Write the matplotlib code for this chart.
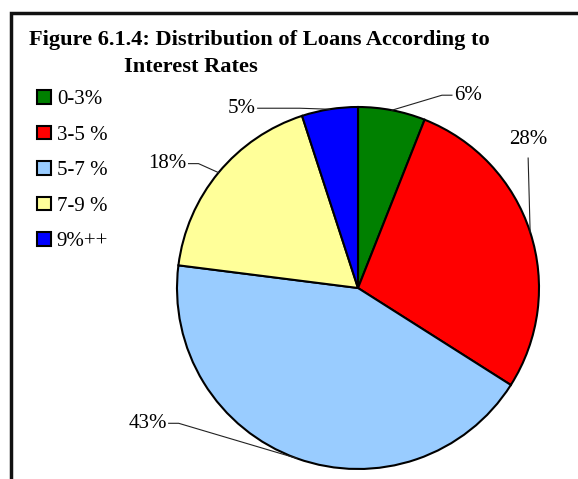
import numpy as np
import matplotlib
matplotlib.use('Agg')
import matplotlib.pyplot as plt

# Loan shares by interest-rate band (%)
categories = ['0-3%', '3-5 %', '5-7 %', '7-9 %', '9%++']
shares = [6, 28, 43, 18, 5]
colors = ['#008000', '#FF0000', '#99CCFF', '#FFFF99', '#0000FF']

title_1 = 'Figure 6.1.4: Distribution of Loans According to'
title_2 = 'Interest Rates'

W, H = 578, 479
plt.rcParams['font.family'] = ['Liberation Serif', 'DejaVu Serif']

fig = plt.figure(figsize=(W / 100, H / 100), dpi=100)
ax = fig.add_axes([0, 0, 1, 1])

# pie drawn in pixel units, y measured from the top
cx, cy, r = 358, 288, 181
wedges, _ = ax.pie(shares, colors=colors, startangle=90, counterclock=False,
                   center=(cx, H - cy), radius=r,
                   wedgeprops=dict(edgecolor='black', linewidth=1.5))
ax.set_xlim(0, W)
ax.set_ylim(0, H)
ax.set_aspect('equal')
ax.axis('off')

def py(y):
    return H - y

# outer frame (only top and left edges fall inside the canvas)
ax.plot([W, 11, 11], [py(13), py(13), 0], color='#111111', linewidth=2.5,
        solid_joinstyle='miter', clip_on=True)

ax.text(29, py(45), title_1, fontsize=16.1, fontweight='bold', ha='left', va='baseline')
ax.text(124, py(72), title_2, fontsize=16.1, fontweight='bold', ha='left', va='baseline')

# leader lines: knee and end offsets (px) from the wedge edge, text alignment
leaders = [
    ((50, -15), (60, -15), 'left'),
    ((-2, -74), (-2, -74), 'center'),
    ((-118, -35), (-128, -35), 'right'),
    ((-20, -9), (-30, -9), 'right'),
    ((-30, -1), (-72, -1), 'right'),
]

for w, v, (knee, end, ha) in zip(wedges, shares, leaders):
    mid = np.deg2rad((w.theta1 + w.theta2) / 2)
    ax_x = cx + r * np.cos(mid)
    ax_y = cy - r * np.sin(mid)
    xs = [ax_x, ax_x + knee[0], ax_x + end[0]]
    ys = [ax_y, ax_y + knee[1], ax_y + end[1]]
    ax.plot(xs, [py(y) for y in ys], color='#222222', linewidth=0.8)
    if ha == 'center':
        ax.text(xs[2], py(ys[2] - 9), f'{v}%', fontsize=15, ha='center', va='bottom')
    elif ha == 'left':
        ax.text(xs[2] + 2, py(ys[2]), f'{v}%', fontsize=15, ha='left', va='center')
    else:
        ax.text(xs[2] - 2, py(ys[2]), f'{v}%', fontsize=15, ha='right', va='center')

leg = ax.legend(wedges, categories, loc='upper left',
                bbox_to_anchor=(37 / W, 1 - 90 / H), bbox_transform=fig.transFigure,
                frameon=False, fontsize=15, handlelength=0.65, handleheight=0.65,
                handletextpad=0.3, labelspacing=0.78, borderpad=0, borderaxespad=0)
for h in leg.legend_handles:
    h.set_linewidth(1.5)

fig.savefig('out.png', dpi=100)
